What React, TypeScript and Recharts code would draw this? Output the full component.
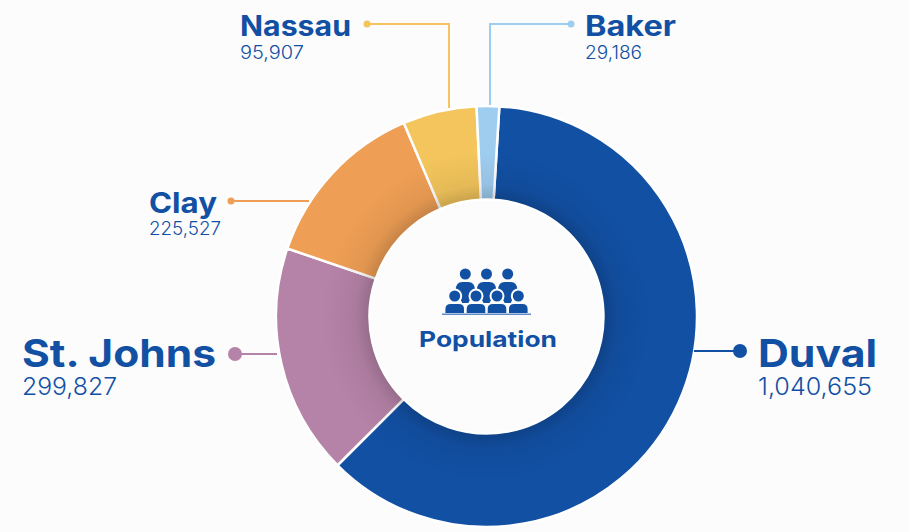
import { PieChart, Pie, Cell } from "recharts";

const counties = ["Duval", "St. Johns", "Clay", "Nassau", "Baker"];
const population = [1040655, 299827, 225527, 95907, 29186];
const colors = ["#1250a4", "#b683a8", "#ef9f55", "#f3c55c", "#9fcdf0"];
const blue = "#1250a4";
const font = "Inter, 'Noto Sans', sans-serif";

const data = counties.map((name, i) => ({ name, value: population[i] }));
const ring = [{ name: "shade", value: 1 }];

// hand placed callouts, one per slice
const callouts = [
  { x: 758, name: 367, num: 395, big: 38, small: 24, nameW: 119, numW: 114, dot: 7, points: "740,351 694,351", dx: 740, dy: 351 },
  { x: 22, name: 367, num: 395, big: 38, small: 24, nameW: 194, numW: 95, dot: 7, points: "235,354 277,354", dx: 235, dy: 354 },
  { x: 149, name: 213, num: 235, big: 28, small: 18, nameW: 68, numW: 72, dot: 3.5, points: "231,201 309,201", dx: 231, dy: 201 },
  { x: 240, name: 36, num: 59, big: 28, small: 18, nameW: 111, numW: 64, dot: 3.5, points: "367,24 449,24 449,108", dx: 367, dy: 24 },
  { x: 585, name: 36, num: 59, big: 28, small: 18, nameW: 91, numW: 57, dot: 3.5, points: "571,24 490,24 490,105", dx: 571, dy: 24 },
];

const renderCallout = (props: any) => {
  const c = callouts[props.index];
  const color = colors[props.index];
  return (
    <g key={props.index} fontFamily={font} fill={blue}>
      <polyline points={c.points} fill="none" stroke={color} strokeWidth={2} />
      <circle cx={c.dx} cy={c.dy} r={c.dot} fill={color} />
      <text x={c.x} y={c.name} fontSize={c.big} fontWeight={700} textLength={c.nameW} lengthAdjust="spacingAndGlyphs">
        {props.name}
      </text>
      <text x={c.x} y={c.num} fontSize={c.small} fontWeight={300} textLength={c.numW} lengthAdjust="spacingAndGlyphs">
        {props.value.toLocaleString("en-US")}
      </text>
    </g>
  );
};

const topHeads = [465.3, 486.5, 507.7];
const bottomHeads = [454.7, 476, 497, 518.3];

const PeopleIcon = () => (
  <g fill={blue}>
    {topHeads.map((x) => (
      <g key={x}>
        <circle cx={x} cy={274} r={5.5} />
        <path d={`M${x - 9.5} 290 Q${x - 9.5} 282 ${x - 3} 282 H${x + 3} Q${x + 9.5} 282 ${x + 9.5} 290 L${x + 3} 303 H${x - 3} Z`} />
      </g>
    ))}
    {bottomHeads.map((x) => (
      <g key={x}>
        <circle cx={x} cy={296} r={7.5} fill="#fff" />
        <circle cx={x} cy={296} r={5.5} />
        <path d={`M${x - 9.3} 313 V309 Q${x - 9.3} 304 ${x - 4} 304 H${x + 4} Q${x + 9.3} 304 ${x + 9.3} 309 V313 Z`} />
      </g>
    ))}
    <rect x={442} y={313.5} width={89} height={1.5} fill="#5f8cc8" />
  </g>
);

export default function App() {
  return (
    <div style={{ position: "absolute", left: 0, top: 0, width: 910, height: 532, background: "#fcfcfd" }}>
      <PieChart width={910} height={532} margin={{ top: 0, right: 0, bottom: 0, left: 0 }}>
        <defs>
          <radialGradient id="ringShade" gradientUnits="userSpaceOnUse" cx={486.5} cy={316.5} r={165}>
            <stop offset="0.715" stopColor="#000" stopOpacity={0.17} />
            <stop offset="0.8" stopColor="#000" stopOpacity={0.06} />
            <stop offset="1" stopColor="#000" stopOpacity={0} />
          </radialGradient>
        </defs>
        <Pie
          data={data}
          dataKey="value"
          nameKey="name"
          cx={486.5}
          cy={316.5}
          innerRadius={117}
          outerRadius={210.5}
          startAngle={86.5}
          endAngle={-273.5}
          stroke="#fff"
          strokeWidth={2.5}
          label={renderCallout}
          labelLine={false}
          isAnimationActive={false}
        >
          {counties.map((name, i) => (
            <Cell key={name} fill={colors[i]} />
          ))}
        </Pie>
        <Pie
          data={ring}
          dataKey="value"
          cx={486.5}
          cy={316.5}
          innerRadius={118.3}
          outerRadius={165}
          startAngle={90}
          endAngle={-270}
          stroke="none"
          fill="url(#ringShade)"
          isAnimationActive={false}
        />
        <PeopleIcon />
        <text x={419} y={347} fontFamily={font} fontSize={22} fontWeight={700} fill={blue} textLength={138} lengthAdjust="spacingAndGlyphs">
          Population
        </text>
      </PieChart>
    </div>
  );
}
